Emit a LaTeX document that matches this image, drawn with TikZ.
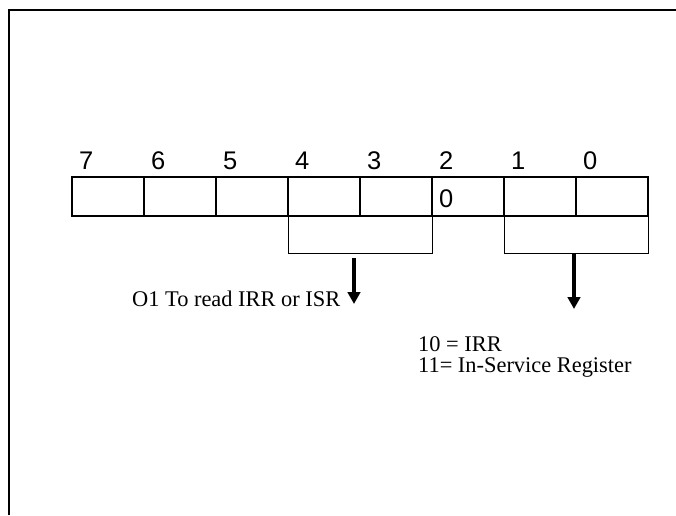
\documentclass[tikz,border=0pt]{standalone}
\usepackage{fontspec}
\setmainfont{Liberation Serif}
\newfontfamily\digitfont{Liberation Sans}
\usetikzlibrary{arrows.meta, positioning}

\begin{document}
\begin{tikzpicture}[x=1pt,y=-1pt,
  cell/.style={draw,line width=1.3pt,minimum width=72pt,minimum height=39pt,inner sep=0pt,outer sep=0pt},
  bitnum/.style={font=\digitfont\fontsize{25.5}{28}\selectfont,anchor=base west,inner sep=0pt},
  bracket/.style={line width=1pt},
  readarrow/.style={line width=3.6pt,-{Triangle[width=12.5pt,length=12pt]}},
  note/.style={font=\fontsize{22.4}{20.5}\selectfont,anchor=base west,inner sep=0pt}]

  \useasboundingbox (0,0) rectangle (676,515);

  % outer frame (open to the right and bottom)
  \draw[line width=2.4pt] (9,515) -- (9,10) -- (676,10);

  % register bits 7..0
  \foreach \b [count=\i from 0] in {7,...,0}{
    \node[cell] (c\b) at ({108+72*\i},196.5) {};
    \node[bitnum] (n\b) at ({79+72*\i},169) {\b};
  }
  \node[bitnum] (v2) at (439,207) {0};

  % field brackets
  \draw[bracket] (c4.south west) -- ++(0,37) -| (c3.south east);
  \draw[bracket] (c1.south west) -- ++(0,37) -| (c0.south east);

  % arrows
  \coordinate (lhead) at (354,258);
  \coordinate (ltip) at (354,304);
  \coordinate (rhead) at (574,253);
  \coordinate (rtip) at (574,309);
  \draw[readarrow] (lhead) -- (ltip);
  \draw[readarrow] (rhead) -- (rtip);

  % texts
  \node[note] (rdtxt) at (132,306) {O1 To read IRR or ISR};
  \node[note,align=left] (codes) at (418,372) {10 = IRR\\11= In-Service Register};

\end{tikzpicture}
\end{document}
